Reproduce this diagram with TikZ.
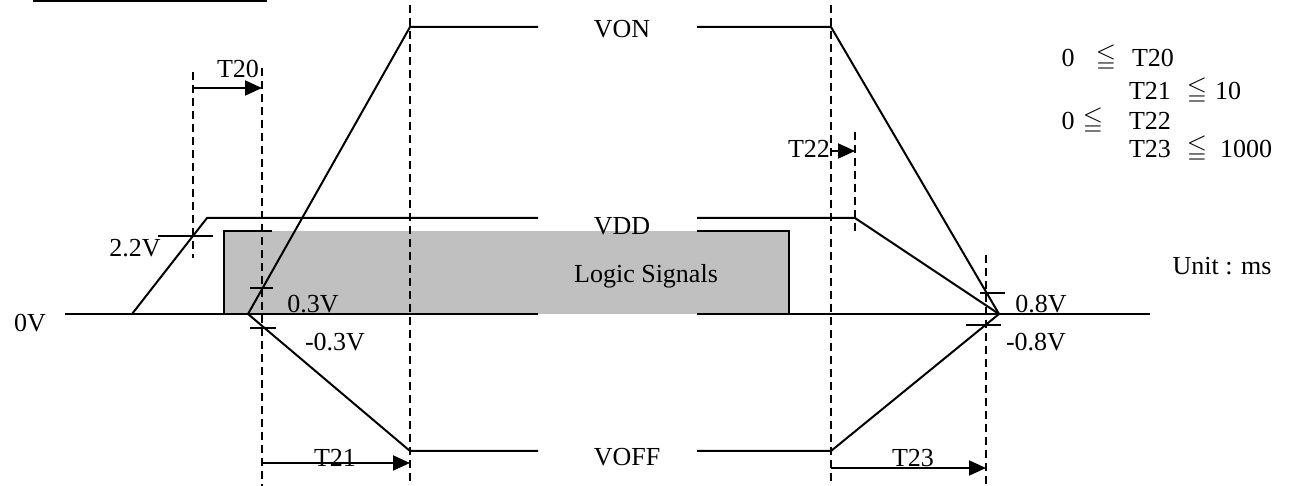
\documentclass[tikz,border=0pt]{standalone}
\usepackage{fontspec}
\usepackage{amssymb}
\setmainfont{Liberation Serif}
\usetikzlibrary{positioning,arrows.meta}

\begin{document}
\begin{tikzpicture}[x=0.5pt, y=-0.5pt,
  sig/.style={line width=1pt},
  guide/.style={line width=0.8pt, dash pattern=on 4pt off 2.5pt},
  tarrow/.style={line width=1pt, -{Triangle[length=8.5pt,width=7.5pt]}},
  lbl/.style={inner sep=0pt, font=\fontsize{13}{15}\selectfont}]
  % colors
  \definecolor{logicgray}{RGB}{192,192,192}

  % parameters
  \def\von{27}    % VON level
  \def\vdd{218}   % VDD level
  \def\vz{314}    % 0V level
  \def\voff{451}  % VOFF level

  \useasboundingbox (0,0) rectangle (1292,486);

  % title underline (cut off)
  \draw[line width=1.5pt] (33,1) -- (267,1);

  % logic signals
  \fill[logicgray] (224,231) rectangle (789,\vz);
  \draw[sig] (272,231) -- (224,231) -- (224,\vz);
  \draw[sig] (697,231) -- (789,231) -- (789,\vz);

  % 0V
  \draw[sig] (65,\vz) -- (538,\vz);
  \draw[sig] (697,\vz) -- (1150,\vz);

  % VDD
  \draw[sig] (132,\vz) -- (207,\vdd) -- (538,\vdd);
  \draw[sig] (697,\vdd) -- (855,\vdd) -- (999,\vz);

  % VON
  \draw[sig] (248,\vz) -- (410,\von) -- (538,\von);
  \draw[sig] (697,\von) -- (831,\von) -- (999,\vz);

  % VOFF
  \draw[sig] (248,\vz) -- (410,\voff) -- (538,\voff);
  \draw[sig] (697,\voff) -- (831,\voff) -- (999,\vz);

  % dashed timing lines
  \draw[guide] (193,72) -- (193,258);
  \draw[guide] (262,68) -- (262,486);
  \draw[guide] (410,5) -- (410,486);
  \draw[guide] (831,5) -- (831,486);
  \draw[guide] (855,132) -- (855,235);
  \draw[guide] (986,255) -- (986,486);

  % level ticks
  \draw[sig] (158,236) -- (213,236);
  \draw[sig] (250,288) -- (273,288);
  \draw[sig] (250,328) -- (276,328);
  \draw[sig] (980,293) -- (1005,293);
  \draw[sig] (966,325) -- (1001,325);

  % timing arrows
  \coordinate (t20s) at (193,88);  \coordinate (t20e) at (262,88);
  \coordinate (t21s) at (262,463); \coordinate (t21e) at (410,463);
  \coordinate (t22s) at (832,151); \coordinate (t22e) at (855,151);
  \coordinate (t23s) at (831,468); \coordinate (t23e) at (986,468);
  \draw[tarrow] (t20s) -- (t20e);
  \draw[tarrow] (t21s) -- (t21e);
  \draw[tarrow] (t22s) -- (t22e);
  \draw[tarrow] (t23s) -- (t23e);

  % signal labels
  \node[lbl] (von)   at (622,29)  {VON};
  \node[lbl] (vdd)   at (622,226) {VDD};
  \node[lbl] (logic) at (646,276) {Logic Signals};
  \node[lbl] (voff)  at (627,457) {VOFF};
  \node[lbl] (zero)  at (30,323)  {0V};

  % level labels
  \node[lbl] (l22)  at (135,248)  {2.2V};
  \node[lbl] (l03)  at (313,304)  {0.3V};
  \node[lbl] (lm03) at (335,342)  {-0.3V};
  \node[lbl] (l08)  at (1041,304) {0.8V};
  \node[lbl] (lm08) at (1036,342) {-0.8V};

  % timing labels
  \node[lbl] (t20) at (238,69)  {T20};
  \node[lbl] (t21) at (335,458) {T21};
  \node[lbl] (t22) at (809,149) {T22};
  \node[lbl] (t23) at (913,458) {T23};

  % limits
  \node[lbl] (ca0) at (1068,58)  {0};
  \node[lbl] (cal) at (1106,58)  {$\leqq$};
  \node[lbl] (cat) at (1153,58)  {T20};
  \node[lbl] (cbt) at (1150,91)  {T21};
  \node[lbl] (cbl) at (1197,91)  {$\leqq$};
  \node[lbl] (cbv) at (1228,91)  {10};
  \node[lbl] (cc0) at (1068,121) {0};
  \node[lbl] (ccl) at (1093,121) {$\leqq$};
  \node[lbl] (cct) at (1150,121) {T22};
  \node[lbl] (cdt) at (1150,149) {T23};
  \node[lbl] (cdl) at (1197,149) {$\leqq$};
  \node[lbl] (cdv) at (1246,149) {1000};
  \node[lbl] (unit) at (1222,266) {Unit : ms};
\end{tikzpicture}
\end{document}
